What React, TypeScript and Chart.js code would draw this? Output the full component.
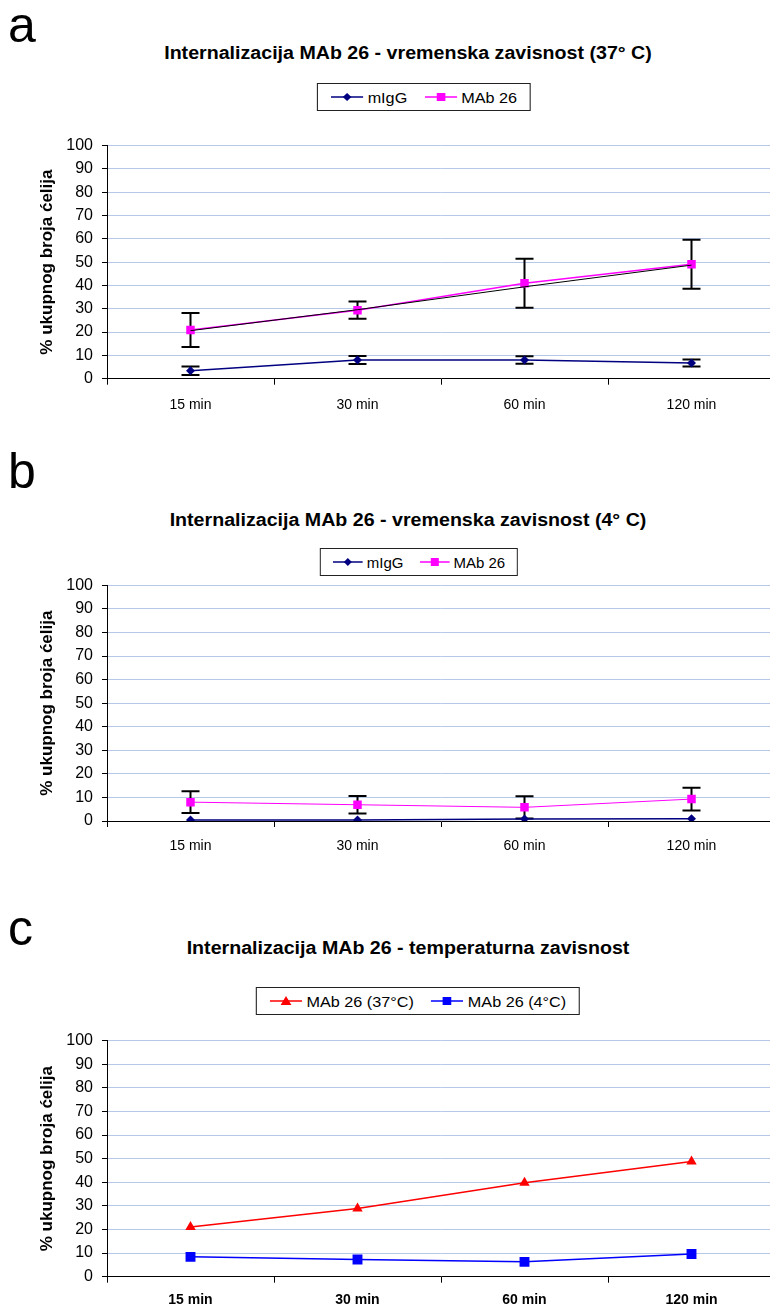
import React, { useEffect, useRef } from 'react';
import { Chart, registerables } from 'chart.js';

Chart.register(...registerables);

// ---------- data ----------
const categories = ['15 min', '30 min', '60 min', '120 min'];
const yAxisTitle = '% ukupnog broja ćelija';

const a_mIgG = [3.4, 8.0, 8.0, 6.7];
const a_mIgG_err = [1.8, 1.7, 1.6, 1.5];
const a_MAb26 = [20.9, 29.4, 40.9, 49.1];
const a_MAb26_err = [7.3, 3.7, 10.5, 10.5];
const a_MAb26_line = [20.6, 29.6, 39.4, 48.7];

const b_mIgG = [0.4, 0.4, 0.9, 1.0];
const b_MAb26 = [8.0, 6.9, 5.8, 9.3];
const b_MAb26_err = [4.6, 3.7, 4.75, 4.8];

const c_MAb26_37 = [21.1, 28.9, 39.8, 48.8];
const c_MAb26_4 = [8.4, 7.3, 6.3, 9.6];

const FONT = '"Liberation Sans", Arial, sans-serif';

// ---------- error bar plugin ----------
const errorBarPlugin = {
  id: 'errorBars',
  beforeDatasetsDraw(chart: any) {
    const ctx = chart.ctx;
    const yScale = chart.scales.y;
    chart.data.datasets.forEach((ds: any, i: number) => {
      if (!ds.errors) return;
      const meta = chart.getDatasetMeta(i);
      ctx.save();
      ctx.strokeStyle = '#000';
      ctx.lineWidth = 2;
      meta.data.forEach((pt: any, j: number) => {
        const v = ds.data[j];
        const e = ds.errors[j];
        if (e == null || !e) return;
        const x = pt.x;
        const yt = yScale.getPixelForValue(v + e);
        const yb = yScale.getPixelForValue(v - e);
        ctx.beginPath();
        ctx.moveTo(x, yt);
        ctx.lineTo(x, yb);
        ctx.moveTo(x - 9, yt);
        ctx.lineTo(x + 9, yt);
        ctx.moveTo(x - 9, yb);
        ctx.lineTo(x + 9, yb);
        ctx.stroke();
      });
      ctx.restore();
    });
  },
};

// ---------- legend markers ----------
type LegendItem = { label: string; color: string; marker: 'diamond' | 'square' | 'triangle' };

function Marker({ color, marker }: { color: string; marker: string }) {
  return (
    <svg width={30} height={12} style={{ display: 'block' }}>
      <line x1={0} y1={6} x2={30} y2={6} stroke={color} strokeWidth={1.5} />
      {marker === 'diamond' && <polygon points="15,2 19,6 15,10 11,6" fill={color} />}
      {marker === 'square' && <rect x={11} y={2} width={8} height={8} fill={color} />}
      {marker === 'triangle' && <polygon points="15,1 20,10 10,10" fill={color} />}
    </svg>
  );
}

type PanelProps = {
  letter: string;
  letterTop: number;
  title: string;
  titleCenterY: number;
  legendTop: number;
  legendCenter: number;
  legendScale: number;
  legend: LegendItem[];
  canvasTop: number;
  canvasHeight: number;
  areaTop: number;
  areaBottom: number;
  xLabelBold: boolean;
  xLabelPadding: number;
  datasets: any[];
};

function Panel(p: PanelProps) {
  const ref = useRef<HTMLCanvasElement | null>(null);
  useEffect(() => {
    if (!ref.current) return;
    const xAxisH = p.canvasHeight - (p.areaBottom - p.canvasTop);
    const chart = new Chart(ref.current, {
      type: 'line',
      data: { labels: categories, datasets: p.datasets },
      plugins: [errorBarPlugin],
      options: {
        responsive: false,
        animation: false,
        devicePixelRatio: 1,
        layout: {
          autoPadding: false,
          padding: { top: p.areaTop - p.canvasTop, left: 0, right: 0, bottom: 0 },
        },
        plugins: {
          legend: { display: false },
          title: { display: false },
          tooltip: { enabled: false },
        },
        scales: {
          x: {
            type: 'category',
            offset: true,
            grid: {
              display: true,
              offset: true,
              drawOnChartArea: false,
              drawTicks: true,
              tickLength: 6,
              color: '#000',
              tickColor: '#000',
            },
            border: { color: '#000', width: 1 },
            ticks: {
              color: '#000',
              font: { family: FONT, size: 14, weight: p.xLabelBold ? 'bold' : 'normal' },
              padding: p.xLabelPadding,
              maxRotation: 0,
            },
            afterFit: (s: any) => {
              s.height = xAxisH;
            },
          },
          y: {
            min: 0,
            max: 100,
            ticks: {
              stepSize: 10,
              color: '#000',
              font: { family: FONT, size: 16 },
              padding: 9,
            },
            grid: { color: '#b7c7e8', tickColor: '#000', tickLength: 5, lineWidth: 1 },
            border: { color: '#000', width: 1 },
            title: {
              display: true,
              text: yAxisTitle,
              color: '#000',
              font: { family: FONT, size: 17, weight: 'bold' },
              padding: { top: 37, bottom: 0 },
            },
            afterFit: (s: any) => {
              s.width = 107;
            },
          },
        },
      } as any,
    });
    return () => chart.destroy();
  }, []);

  return (
    <>
      <div
        style={{
          position: 'absolute',
          left: 8,
          top: p.letterTop,
          fontFamily: FONT,
          fontSize: 50,
          lineHeight: '50px',
          color: '#000',
        }}
      >
        {p.letter}
      </div>
      <div
        style={{
          position: 'absolute',
          left: 408,
          top: p.titleCenterY - 10,
          transform: 'translateX(-50%) scaleX(1.09)',
          whiteSpace: 'nowrap',
          fontFamily: FONT,
          fontWeight: 'bold',
          fontSize: 18,
          lineHeight: '20px',
          color: '#000',
        }}
      >
        {p.title}
      </div>
      <div
        style={{
          position: 'absolute',
          left: p.legendCenter,
          top: p.legendTop,
          transform: `translateX(-50%) scaleX(${p.legendScale})`,
          border: '1.5px solid #222',
          height: 26,
          padding: '0 12px',
          display: 'flex',
          alignItems: 'center',
          gap: 16,
          background: '#fff',
          whiteSpace: 'nowrap',
        }}
      >
        {p.legend.map((it) => (
          <div key={it.label} style={{ display: 'flex', alignItems: 'center', gap: 4 }}>
            <Marker color={it.color} marker={it.marker} />
            <span style={{ fontFamily: FONT, fontSize: 15, color: '#000' }}>{it.label}</span>
          </div>
        ))}
      </div>
      <canvas
        ref={ref}
        width={775}
        height={p.canvasHeight}
        style={{ position: 'absolute', left: 0, top: p.canvasTop, width: 775, height: p.canvasHeight }}
      />
    </>
  );
}

const mIgGStyle = {
  borderColor: '#000080',
  backgroundColor: '#000080',
  borderWidth: 1.5,
  pointStyle: 'rectRot',
  pointRadius: 4.5,
  pointBorderWidth: 0,
};
const mabStyle = {
  borderColor: '#ff00ff',
  backgroundColor: '#ff00ff',
  borderWidth: 1.5,
  pointStyle: 'rect',
  pointRadius: 6,
  pointBorderWidth: 0,
};

export default function App() {
  return (
    <div
      style={{
        position: 'absolute',
        left: 0,
        top: 0,
        width: 770,
        height: 1310,
        overflow: 'hidden',
        background: '#fff',
      }}
    >
      <Panel
        letter="a"
        letterTop={0}
        title="Internalizacija MAb 26 - vremenska zavisnost (37° C)"
        titleCenterY={53}
        legendTop={83}
        legendCenter={424}
        legendScale={1.08}
        legend={[
          { label: 'mIgG', color: '#000080', marker: 'diamond' },
          { label: 'MAb 26', color: '#ff00ff', marker: 'square' },
        ]}
        canvasTop={125}
        canvasHeight={300}
        areaTop={145.5}
        areaBottom={378.7}
        xLabelBold={false}
        xLabelPadding={12}
        datasets={[
          { label: 'mIgG', data: a_mIgG, errors: a_mIgG_err, ...mIgGStyle },
          {
            label: 'MAb 26 trend',
            data: a_MAb26_line,
            borderColor: '#000',
            borderWidth: 1,
            pointRadius: 0,
          },
          { label: 'MAb 26', data: a_MAb26, errors: a_MAb26_err, ...mabStyle },
        ]}
      />
      <Panel
        letter="b"
        letterTop={446}
        title="Internalizacija MAb 26 - vremenska zavisnost (4° C)"
        titleCenterY={520}
        legendTop={548}
        legendCenter={419}
        legendScale={1.0}
        legend={[
          { label: 'mIgG', color: '#000080', marker: 'diamond' },
          { label: 'MAb 26', color: '#ff00ff', marker: 'square' },
        ]}
        canvasTop={565}
        canvasHeight={300}
        areaTop={585.3}
        areaBottom={821}
        xLabelBold={false}
        xLabelPadding={11}
        datasets={[
          { label: 'mIgG', data: b_mIgG, ...mIgGStyle },
          { label: 'MAb 26', data: b_MAb26, errors: b_MAb26_err, ...mabStyle, borderWidth: 1 },
        ]}
      />
      <Panel
        letter="c"
        letterTop={903}
        title="Internalizacija MAb 26 - temperaturna zavisnost"
        titleCenterY={948}
        legendTop={987}
        legendCenter={418}
        legendScale={1.08}
        legend={[
          { label: 'MAb 26 (37°C)', color: '#ff0000', marker: 'triangle' },
          { label: 'MAb 26 (4°C)', color: '#0000ff', marker: 'square' },
        ]}
        canvasTop={1022}
        canvasHeight={288}
        areaTop={1040}
        areaBottom={1276.7}
        xLabelBold={true}
        xLabelPadding={9}
        datasets={[
          {
            label: 'MAb 26 (37°C)',
            data: c_MAb26_37,
            borderColor: '#ff0000',
            backgroundColor: '#ff0000',
            borderWidth: 1.5,
            pointStyle: 'triangle',
            pointRadius: 6,
            pointBorderWidth: 0,
          },
          {
            label: 'MAb 26 (4°C)',
            data: c_MAb26_4,
            borderColor: '#0000ff',
            backgroundColor: '#0000ff',
            borderWidth: 1.5,
            pointStyle: 'rect',
            pointRadius: 7,
            pointBorderWidth: 0,
          },
        ]}
      />
    </div>
  );
}
